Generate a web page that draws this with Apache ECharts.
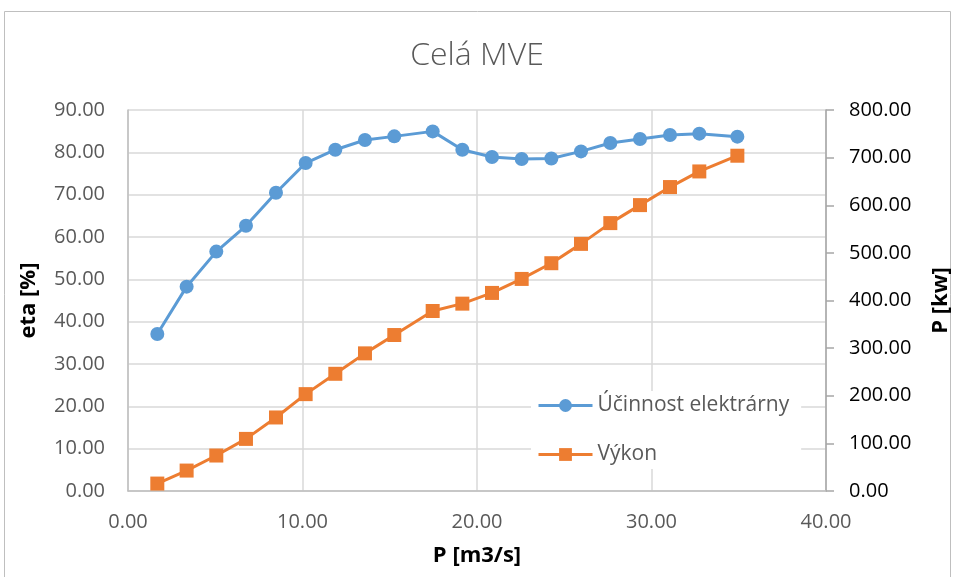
<!DOCTYPE html>
<html><head><meta charset="utf-8">
<script src="https://cdn.jsdelivr.net/npm/echarts@6/dist/echarts.min.js"></script>
<style>html,body{margin:0;padding:0;background:#fff}#c{width:954px;height:577px}</style>
</head><body><div id="c"></div>
<script>
const titleText = "Celá MVE";
const seriesNames = ["Účinnost elektrárny", "Výkon"];
const flow = [1.68, 3.36, 5.06, 6.76, 8.48, 10.18, 11.88, 13.58, 15.26, 17.46, 19.16, 20.86, 22.56, 24.26, 25.96, 27.64, 29.34, 31.06, 32.74, 34.92];
const eta = [37.08, 48.27, 56.55, 62.64, 70.44, 77.47, 80.62, 82.91, 83.77, 84.95, 80.62, 78.89, 78.42, 78.56, 80.22, 82.21, 83.15, 84.10, 84.41, 83.70];
const power = [15.6, 42.9, 74.5, 109.4, 154.4, 203.4, 246.1, 289.0, 327.5, 378.0, 393.4, 415.9, 445.3, 478.3, 518.9, 562.5, 600.3, 638.2, 671.0, 704.0];
const xName = "P [m3/s]", yLeftName = "eta [%]", yRightName = "P [kw]";

const font = "'Open Sans', sans-serif";
const chart = echarts.init(document.getElementById('c'));
const fmt = v => v.toFixed(2);
chart.setOption({
  animation: false,
  backgroundColor: '#fff',
  title: {text: titleText, left: 'center', top: 35,
    textStyle: {fontFamily: font, fontWeight: 300, fontSize: 32, color: '#595959'}},
  graphic: [{type: 'rect', shape: {x: 4.5, y: 11.5, width: 946, height: 570},
    style: {fill: 'none', stroke: '#bfbfbf', lineWidth: 1}, silent: true}],
  grid: {left: 128, right: 128, top: 110, bottom: 86, containLabel: false, outerBoundsMode: 'none'},
  legend: {orient: 'vertical', left: 531, top: 391, itemGap: 28, itemWidth: 54, itemHeight: 16,
    backgroundColor: '#fff', padding: [4, 12, 4, 6],
    lineStyle: {width: 3},
    textStyle: {fontFamily: font, fontSize: 21, color: '#595959'},
    data: [seriesNames[0], seriesNames[1]]},
  xAxis: {type: 'value', min: 0, max: 40, interval: 10,
    name: xName, nameLocation: 'middle', nameGap: 54,
    nameTextStyle: {fontFamily: font, fontWeight: 'bold', fontSize: 22, color: '#000'},
    axisLine: {show: true, onZero: false, lineStyle: {color: '#bfbfbf', width: 1.5}},
    axisTick: {show: false},
    axisLabel: {formatter: fmt, margin: 21, fontFamily: font, fontSize: 20, color: '#595959'},
    splitLine: {show: true, lineStyle: {color: '#d9d9d9', width: 1.5}}},
  yAxis: [
    {type: 'value', min: 0, max: 90, interval: 10, position: 'left',
      name: yLeftName, nameLocation: 'middle', nameGap: 88, nameRotate: 90,
      nameTextStyle: {fontFamily: font, fontWeight: 'bold', fontSize: 22, color: '#000'},
      axisLine: {show: true, lineStyle: {color: '#bfbfbf', width: 1.5}},
      axisTick: {show: false},
      axisLabel: {formatter: fmt, margin: 23, fontFamily: font, fontSize: 20, color: '#595959'},
      splitLine: {show: true, lineStyle: {color: '#d9d9d9', width: 1.5}}},
    {type: 'value', min: 0, max: 800, interval: 100, position: 'right',
      name: yRightName, nameLocation: 'middle', nameGap: 104, nameRotate: 90,
      nameTextStyle: {fontFamily: font, fontWeight: 'bold', fontSize: 22, color: '#000'},
      axisLine: {show: true, lineStyle: {color: '#a6a6a6', width: 1.5}},
      axisTick: {show: true, inside: false, length: 8, lineStyle: {color: '#a6a6a6', width: 1.5}},
      axisLabel: {formatter: fmt, margin: 23, fontFamily: font, fontSize: 20, color: '#000'},
      splitLine: {show: false}}
  ],
  series: [
    {name: seriesNames[0], type: 'line', yAxisIndex: 0,
      data: flow.map((x, i) => [x, eta[i]]),
      symbol: 'circle', symbolSize: 14,
      lineStyle: {color: '#5B9BD5', width: 3}, itemStyle: {color: '#5B9BD5'}},
    {name: seriesNames[1], type: 'line', yAxisIndex: 1,
      data: flow.map((x, i) => [x, power[i]]),
      symbol: 'rect', symbolSize: 14,
      lineStyle: {color: '#ED7D31', width: 3}, itemStyle: {color: '#ED7D31'}}
  ]
});
</script></body></html>
